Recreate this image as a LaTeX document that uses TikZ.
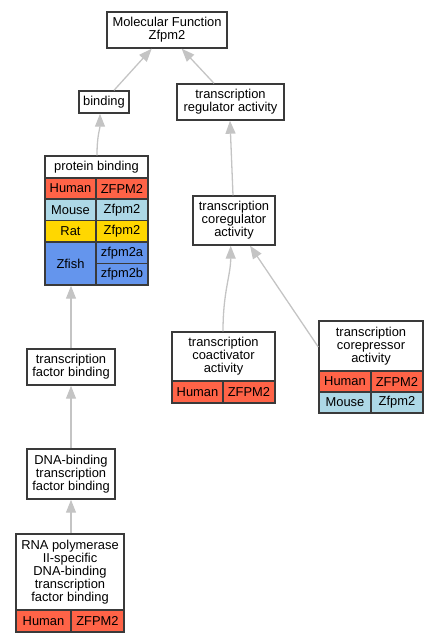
\documentclass[tikz,border=0pt]{standalone}
\usepackage{fontspec}
\setmainfont{Liberation Sans}
\usetikzlibrary{arrows.meta}
\definecolor{human}{HTML}{FF6347}
\definecolor{mouse}{HTML}{ADD8E6}
\definecolor{rat}{HTML}{FFD700}
\definecolor{zfish}{HTML}{6495ED}
\definecolor{edgec}{HTML}{C4C4C4}
\definecolor{border}{HTML}{3A3A3A}
\tikzset{
  box/.style={draw=border, line width=1.4pt, fill=white, inner sep=0pt, align=center,
    font=\fontsize{12.9}{13}\selectfont, text=black},
  edge/.style={draw=edgec, line width=1.3pt, -{Triangle[length=13pt,width=10pt]}},
}
\begin{document}
\begin{tikzpicture}[x=1pt,y=-1pt]
\useasboundingbox (0,0) rectangle (437,643);
% plain boxes
\node[box, minimum width=120pt, minimum height=36pt] (mf) at (167,30) {Molecular Function\\Zfpm2};
\node[box, minimum width=50pt, minimum height=22pt] (binding) at (104,102) {binding};
\node[box, minimum width=107pt, minimum height=36pt] (reg) at (230.5,102) {transcription\\regulator activity};
\node[box, minimum width=82pt, minimum height=49pt] (coreg) at (234,220.5) {transcription\\coregulator\\activity};
\node[box, minimum width=88pt, minimum height=36pt] (tfb) at (71,367) {transcription\\factor binding};
\node[box, minimum width=88pt, minimum height=50pt] (dna) at (71,474) {DNA-binding\\transcription\\factor binding};
% protein binding table
\node[box, minimum width=103pt, minimum height=22pt] (pb) at (96.5,167) {protein binding};
\node[box, fill=human, minimum width=51pt, minimum height=21pt] (pbh) at (70.5,188.5) {Human};
\node[box, fill=human, minimum width=52pt, minimum height=21pt] (pbhg) at (122,188.5) {ZFPM2};
\node[box, fill=mouse, minimum width=51pt, minimum height=21.5pt] (pbm) at (70.5,209.75) {Mouse};
\node[box, fill=mouse, minimum width=52pt, minimum height=21.5pt] (pbmg) at (122,209.75) {Zfpm2};
\node[box, fill=rat, minimum width=51pt, minimum height=21.5pt] (pbr) at (70.5,231.25) {Rat};
\node[box, fill=rat, minimum width=52pt, minimum height=21.5pt] (pbrg) at (122,231.25) {Zfpm2};
\node[box, fill=zfish, minimum width=51pt, minimum height=43pt] (pbz) at (70.5,263.5) {Zfish};
\node[box, fill=zfish, minimum width=52pt, minimum height=21.5pt] (pbza) at (122,252.75) {zfpm2a};
\node[box, fill=zfish, minimum width=52pt, minimum height=21.5pt] (pbzb) at (122,274.25) {zfpm2b};
% coactivator table
\node[box, minimum width=103pt, minimum height=49pt] (coact) at (223.5,356.5) {transcription\\coactivator\\activity};
\node[box, fill=human, minimum width=51pt, minimum height=22pt] (coacth) at (197.5,392) {Human};
\node[box, fill=human, minimum width=52pt, minimum height=22pt] (coacthg) at (249,392) {ZFPM2};
% corepressor table
\node[box, minimum width=104pt, minimum height=50pt] (corep) at (371,346) {transcription\\corepressor\\activity};
\node[box, fill=human, minimum width=52pt, minimum height=21pt] (coreph) at (345,381.5) {Human};
\node[box, fill=human, minimum width=52pt, minimum height=21pt] (corephg) at (397,381.5) {ZFPM2};
\node[box, fill=mouse, minimum width=52pt, minimum height=21pt] (corepm) at (345,402.5) {Mouse};
\node[box, fill=mouse, minimum width=52pt, minimum height=21pt] (corepmg) at (397,402.5) {Zfpm2};
% RNA polymerase table
\node[box, minimum width=108pt, minimum height=76pt] (rna) at (70,572) {RNA polymerase\\II-specific\\DNA-binding\\transcription\\factor binding};
\node[box, fill=human, minimum width=55pt, minimum height=22pt] (rnah) at (43.5,621) {Human};
\node[box, fill=human, minimum width=53pt, minimum height=22pt] (rnahg) at (97.5,621) {ZFPM2};
% edges
\draw[edge] ([xshift=10pt]binding.north) -- ([xshift=-15.3pt]mf.south);
\draw[edge] ([xshift=-16.5pt]reg.north) -- ([xshift=14.7pt]mf.south);
\draw[edge] ([xshift=0.5pt]pb.north) .. controls ([xshift=0.5pt,yshift=20pt]pb.north) and ([xshift=-4pt,yshift=-15pt]binding.south) .. ([xshift=-4pt]binding.south);
\draw[edge] ([xshift=-1pt]coreg.north) -- ([xshift=-0.5pt]reg.south);
\draw[edge] ([xshift=-0.5pt]coact.north) .. controls ([xshift=-0.5pt,yshift=40pt]coact.north) and ([xshift=-3.3pt,yshift=-30pt]coreg.south) .. ([xshift=-3.3pt]coreg.south);
\draw[edge] ([yshift=-1pt]corep.west) -- ([xshift=16pt]coreg.south);
\draw[edge] (tfb.north) -- ([xshift=0.5pt]pbz.south);
\draw[edge] (dna.north) -- (tfb.south);
\draw[edge] ([xshift=1pt]rna.north) -- (dna.south);
\end{tikzpicture}
\end{document}
